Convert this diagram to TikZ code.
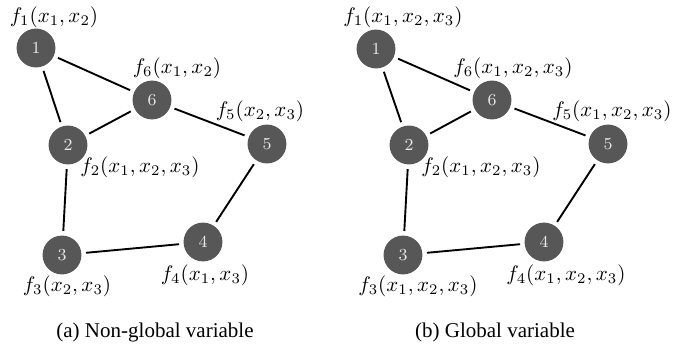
\documentclass[tikz,border=0pt]{standalone}
\usepackage{fontspec}
\newfontfamily\capfont{Liberation Serif}
\definecolor{nodegray}{RGB}{87,87,87}
\definecolor{digitgray}{RGB}{232,232,232}
\begin{document}
\begin{tikzpicture}[x=0.476pt,y=-0.476pt,
  vtx/.style={circle,fill=nodegray,draw=none,minimum size=18.5pt,inner sep=0pt,
    text=digitgray,font=\footnotesize,outer sep=2.2pt},
  edge/.style={draw=black,line width=0.9pt},
  lbl/.style={inner sep=0pt,anchor=center},
  captext/.style={font=\capfont\fontsize{10}{12}\selectfont,anchor=base,inner sep=0pt}]
\useasboundingbox (0,0) rectangle (692,348);
% ---- panel (a)
\node[vtx] (a1) at (36,48) {1};
\node[vtx] (a6) at (152,100) {6};
\node[vtx] (a2) at (68,145) {2};
\node[vtx] (a5) at (267,144) {5};
\node[vtx] (a3) at (62,255) {3};
\node[vtx] (a4) at (203,242) {4};
\draw[edge] (a1) -- (a2);
\draw[edge] (a1) -- (a6);
\draw[edge] (a2) -- (a6);
\draw[edge] (a6) -- (a5);
\draw[edge] (a2) -- (a3);
\draw[edge] (a3) -- (a4);
\draw[edge] (a4) -- (a5);
\node[lbl] (la1) at (54,17) {$f_1(x_1,x_2)$};
\node[lbl] (la6) at (177,68) {$f_6(x_1,x_2)$};
\node[lbl] (la5) at (260,111) {$f_5(x_2,x_3)$};
\node[lbl] (la2) at (140,167) {$f_2(x_1,x_2,x_3)$};
\node[lbl] (la4) at (205,275) {$f_4(x_1,x_3)$};
\node[lbl] (la3) at (67,286) {$f_3(x_2,x_3)$};
\node[captext] (capa) at (155,337) {(a) Non-global variable};
% ---- panel (b)
\node[vtx] (b1) at (376,49) {1};
\node[vtx] (b6) at (492,100) {6};
\node[vtx] (b2) at (409,145) {2};
\node[vtx] (b5) at (608,144) {5};
\node[vtx] (b3) at (403,255) {3};
\node[vtx] (b4) at (544,242) {4};
\draw[edge] (b1) -- (b2);
\draw[edge] (b1) -- (b6);
\draw[edge] (b2) -- (b6);
\draw[edge] (b6) -- (b5);
\draw[edge] (b2) -- (b3);
\draw[edge] (b3) -- (b4);
\draw[edge] (b4) -- (b5);
\node[lbl] (lb1) at (403,17) {$f_1(x_1,x_2,x_3)$};
\node[lbl] (lb6) at (513,68) {$f_6(x_1,x_2,x_3)$};
\node[lbl] (lb5) at (612,111) {$f_5(x_1,x_2,x_3)$};
\node[lbl] (lb2) at (481,167) {$f_2(x_1,x_2,x_3)$};
\node[lbl] (lb4) at (566,275) {$f_4(x_1,x_2,x_3)$};
\node[lbl] (lb3) at (418,286) {$f_3(x_1,x_2,x_3)$};
\node[captext] (capb) at (495,337) {(b) Global variable};
\end{tikzpicture}
\end{document}
